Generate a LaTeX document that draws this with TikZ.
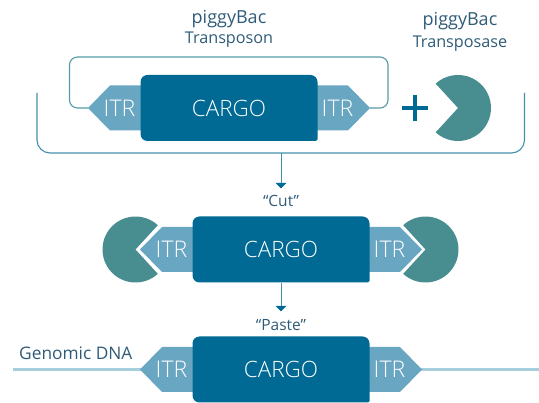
\documentclass[tikz,border=0pt]{standalone}
\usepackage{fontspec}
\setmainfont{Open Sans Light}
\newfontfamily\labelfont{Open Sans}
\usetikzlibrary{arrows.meta}
\definecolor{cargoblue}{HTML}{006A94}
\definecolor{itrblue}{HTML}{68A6C1}
\definecolor{pacteal}{HTML}{488E90}
\definecolor{looplin}{HTML}{569BA3}
\definecolor{brack}{HTML}{4390AC}
\definecolor{dnaline}{HTML}{A6CEDD}
\definecolor{txt}{HTML}{2F5B78}
\tikzset{
  cargobox/.style={minimum width=177pt,minimum height=66pt,inner sep=0pt,text=white,font=\fontsize{22.5}{24}\selectfont},
  itrtxt/.style={inner sep=0pt,text=white,font=\fontsize{23}{24}\selectfont},
  itrfill/.style={fill=itrblue,draw=none},
  pac/.style={fill=pacteal,draw=none},
  looppath/.style={draw=looplin,line width=1.1pt,rounded corners=8pt},
  brackpath/.style={draw=brack,line width=1.1pt,rounded corners=13pt},
  arr/.style={draw=brack,line width=1pt,-{Triangle[width=10.5pt,length=5.5pt,color=cargoblue]}},
  dna/.style={draw=dnaline,line width=3pt},
  toplabel/.style={inner sep=0pt,text=txt,font=\labelfont\fontsize{18}{20}\selectfont},
  sublabel/.style={inner sep=0pt,text=txt,font=\labelfont\fontsize{16.2}{18}\selectfont},
  genomic/.style={inner sep=0pt,text=txt,font=\labelfont\fontsize{17.3}{20}\selectfont},
  quote/.style={inner sep=0pt,text=txt,font=\labelfont\fontsize{15.5}{18}\selectfont},
}
\newcommand{\cargoblock}[3]{%
  \fill[cargoblue] (#1-88.5,#2+33) [rounded corners=1.5pt] -- (#1+88.5,#2+33) [rounded corners=7pt] -- (#1+88.5,#2-33) -- (#1-88.5,#2-33) -- cycle;
  \node[cargobox] (#3) at (#1,#2) {CARGO};
}
\newcommand{\itrpair}[3]{%
  \fill[itrfill] (#1-88,#2-22.5) -- (#1-119,#2-22.5) -- (#1-141,#2) -- (#1-119,#2+22.5) -- (#1-88,#2+22.5) -- cycle;
  \fill[itrfill] (#1+88,#2-22.5) -- (#1+119,#2-22.5) -- (#1+141,#2) -- (#1+119,#2+22.5) -- (#1+88,#2+22.5) -- cycle;
  \coordinate (#3L) at (#1-141,#2);
  \coordinate (#3R) at (#1+141,#2);
  \node[itrtxt] (#3Ltxt) at (#1-109.5,#2) {ITR};
  \node[itrtxt] (#3Rtxt) at (#1+108.5,#2) {ITR};
}
\newcommand{\pacright}[2]{\fill[pac] (#1,#2) -- ++(47.5:33) arc[start angle=47.5,end angle=312.5,radius=33] -- cycle;}
\newcommand{\pacleft}[2]{\fill[pac] (#1,#2) -- ++(132.5:33) arc[start angle=132.5,end angle=-132.5,radius=33] -- cycle;}
\begin{document}
\begin{tikzpicture}[x=1pt,y=-1pt]
\useasboundingbox (0,0) rectangle (539,403);
\coordinate (dnaA) at (13,369.5);
\coordinate (dnaB) at (539,369.5);
\itrpair{229}{108}{a}
\cargoblock{229}{108}{c1}
\draw[looppath] (aL) -- (69.5,108) -- (69.5,57) -- (388,57) -- (388,108) -- (aR);
\coordinate (bl) at (37,93);
\coordinate (br) at (524.5,93);
\coordinate (bm) at (281,153);
\draw[brackpath] (bl) -- (37,153) -- (524.5,153) -- (br);
\pacleft{458}{108}
\fill[cargoblue] (402,106.3) rectangle (428,109.7);
\fill[cargoblue] (413.3,95) rectangle (416.7,121);
\node[toplabel] (t1) at (229,19) {piggyBac};
\node[sublabel] (t2) at (229,40) {Transposon};
\node[toplabel] (t3) at (460,21) {piggyBac};
\node[sublabel] (t4) at (460,44) {Transposase};
\itrpair{281}{249.5}{b}
\cargoblock{281}{249.5}{c2}
\pacright{135.5}{249.5}
\pacleft{425.5}{249.5}
\node[quote] (cut) at (281,201) {“Cut”};
\coordinate (cutTop) at (281,188.5);
\draw[arr] (bm) -- (cutTop);
\draw[dna] (dnaA) -- (141,369.5);
\draw[dna] (421,369.5) -- (dnaB);
\itrpair{281}{369.5}{d}
\cargoblock{281}{369.5}{c3}
\node[quote] (paste) at (281,325) {“Paste”};
\coordinate (pasteTop) at (281,311.5);
\draw[arr] (c2.south) -- (pasteTop);
\node[genomic,anchor=west] (gd) at (19,353) {Genomic DNA};
\end{tikzpicture}
\end{document}
